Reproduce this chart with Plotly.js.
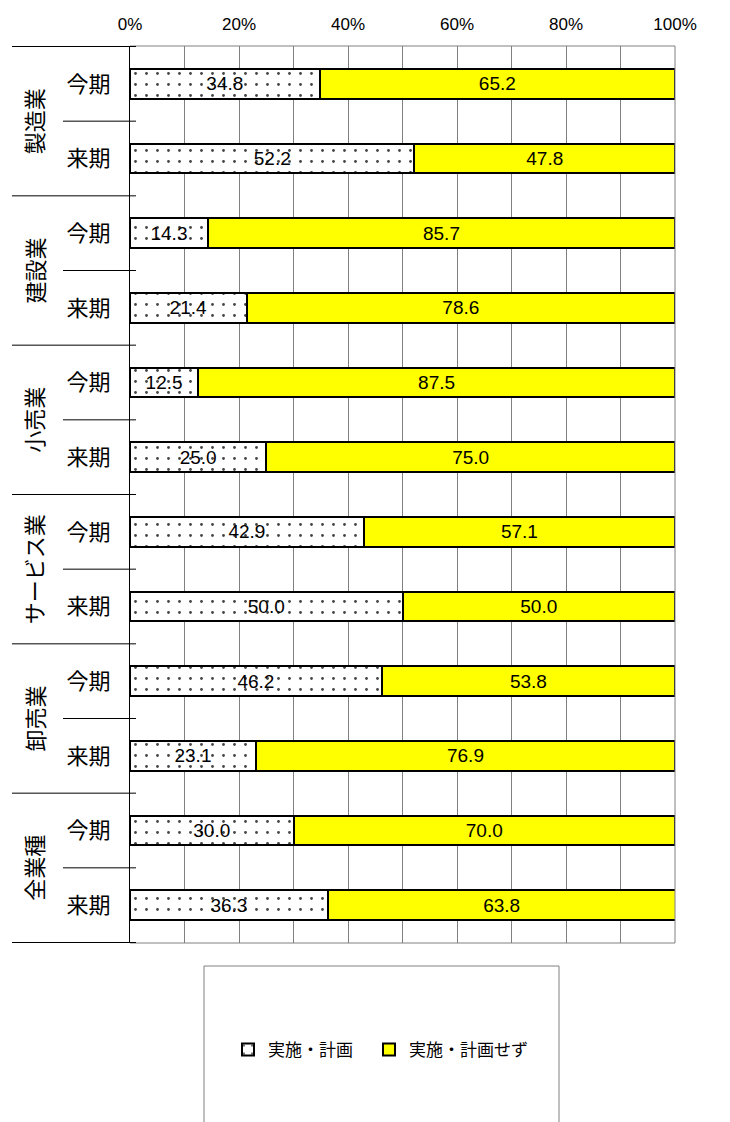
<!DOCTYPE html>
<html>
<head>
<meta charset="utf-8">
<script src="https://cdn.plot.ly/plotly-3.0.1.min.js"></script>
<style>html,body{margin:0;padding:0;background:#fff;}#chart{width:730px;height:1122px;}</style>
</head>
<body>
<div id="chart"></div>
<script>
const groups = ['製造業', '建設業', '小売業', 'サービス業', '卸売業', '全業種'];
const periods = ['今期', '来期'];
const implemented = [34.8, 52.2, 14.3, 21.4, 12.5, 25.0, 42.9, 50.0, 46.2, 23.1, 30.0, 36.3];
const notImplemented = [65.2, 47.8, 85.7, 78.6, 87.5, 75.0, 57.1, 50.0, 53.8, 76.9, 70.0, 63.8];
const seriesNames = ['実施・計画', '実施・計画せず'];
const xTickVals = [0, 20, 40, 60, 80, 100];
const xTickText = ['0%', '20%', '40%', '60%', '80%', '100%'];

const keys = [], tickText = [];
groups.forEach(g => periods.forEach(p => { keys.push(g + '|' + p); tickText.push(p); }));

const FONT = 'Liberation Sans, Arial, "Noto Sans CJK JP", sans-serif';
const JFONT = '"Noto Sans CJK JP", sans-serif';

const traces = [
  {
    type: 'bar', orientation: 'h', name: seriesNames[0], legend: 'legend',
    x: implemented, y: keys,
    marker: {
      color: 'white',
      line: {color: 'black', width: 2},
      pattern: {shape: '.', fgcolor: '#444', bgcolor: 'white', size: 11, solidity: 0.05}
    },
    texttemplate: '%{x:.1f}', textposition: 'inside', insidetextanchor: 'middle',
    textangle: 0, constraintext: 'none',
    insidetextfont: {family: FONT, size: 19, color: 'black'},
    hoverinfo: 'x+name'
  },
  {
    type: 'bar', orientation: 'h', name: seriesNames[1], legend: 'legend2',
    x: notImplemented, y: keys,
    marker: {color: '#FFFF00', line: {color: 'black', width: 2}},
    texttemplate: '%{x:.1f}', textposition: 'inside', insidetextanchor: 'middle',
    textangle: 0, constraintext: 'none',
    insidetextfont: {family: FONT, size: 19, color: 'black'},
    hoverinfo: 'x+name'
  }
];

const L = 130, R = 675, T = 46, B = 943;
const pw = R - L, ph = B - T;
const px = v => (v - L) / pw;
const py = v => (B - v) / ph;

const shapes = [];
// plot frame (top, bottom, right) in gray
shapes.push({type: 'line', xref: 'paper', yref: 'paper', x0: 0, x1: 1, y0: 1, y1: 1, line: {color: '#808080', width: 1}});
shapes.push({type: 'line', xref: 'paper', yref: 'paper', x0: 0, x1: 1, y0: 0, y1: 0, line: {color: '#808080', width: 1}});
shapes.push({type: 'line', xref: 'paper', yref: 'paper', x0: 1, x1: 1, y0: 0, y1: 1, line: {color: '#808080', width: 1}});
// group separators (long) and period separators (short)
for (let i = 0; i <= groups.length; i++) {
  shapes.push({type: 'line', xref: 'paper', yref: 'y', x0: px(12), x1: px(136),
    y0: i * 2 - 0.5, y1: i * 2 - 0.5, line: {color: 'black', width: 1}});
}
for (let i = 0; i < groups.length; i++) {
  shapes.push({type: 'line', xref: 'paper', yref: 'y', x0: px(63), x1: px(136),
    y0: i * 2 + 0.5, y1: i * 2 + 0.5, line: {color: 'black', width: 1}});
}
// legend frame
shapes.push({type: 'rect', xref: 'paper', yref: 'paper', x0: px(204), x1: px(559),
  y0: py(966), y1: py(1140), line: {color: '#808080', width: 1}, fillcolor: 'rgba(0,0,0,0)'});

const annotations = groups.map((g, i) => ({
  xref: 'paper', yref: 'y', x: px(33), y: i * 2 + 0.5, text: g, showarrow: false,
  textangle: -90, font: {family: JFONT, size: 22, color: 'black'},
  xanchor: 'center', yanchor: 'middle'
}));

const legendBase = {
  orientation: 'h', xanchor: 'left', y: py(1050), yanchor: 'middle',
  font: {family: JFONT, size: 17, color: 'black'}, itemwidth: 30,
  bgcolor: 'rgba(0,0,0,0)', borderwidth: 0
};

const layout = {
  width: 730, height: 1122,
  margin: {l: L, r: 730 - R, t: T, b: 1122 - B},
  paper_bgcolor: 'white', plot_bgcolor: 'white',
  barmode: 'stack', bargap: 0.6,
  font: {family: FONT, color: 'black'},
  showlegend: true,
  legend: Object.assign({}, legendBase, {x: px(228)}),
  legend2: Object.assign({}, legendBase, {x: px(369)}),
  xaxis: {
    side: 'top', range: [0, 100], fixedrange: true,
    tickmode: 'array', tickvals: xTickVals, ticktext: xTickText,
    ticks: '', ticklabelstandoff: 12,
    tickfont: {family: FONT, size: 17, color: 'black'},
    showgrid: true, gridcolor: '#808080', gridwidth: 1,
    minor: {dtick: 10, tick0: 0, showgrid: true, gridcolor: '#808080', gridwidth: 1},
    showline: false, zeroline: false
  },
  yaxis: {
    type: 'category', autorange: 'reversed', fixedrange: true,
    tickmode: 'array', tickvals: keys, ticktext: tickText,
    ticks: '', ticklabelstandoff: 14,
    tickfont: {family: JFONT, size: 22, color: 'black'},
    showgrid: false, showline: true, linecolor: 'black', linewidth: 1,
    zeroline: false
  },
  shapes: shapes,
  annotations: annotations
};

Plotly.newPlot('chart', traces, layout, {displayModeBar: false, staticPlot: true});
</script>
</body>
</html>
